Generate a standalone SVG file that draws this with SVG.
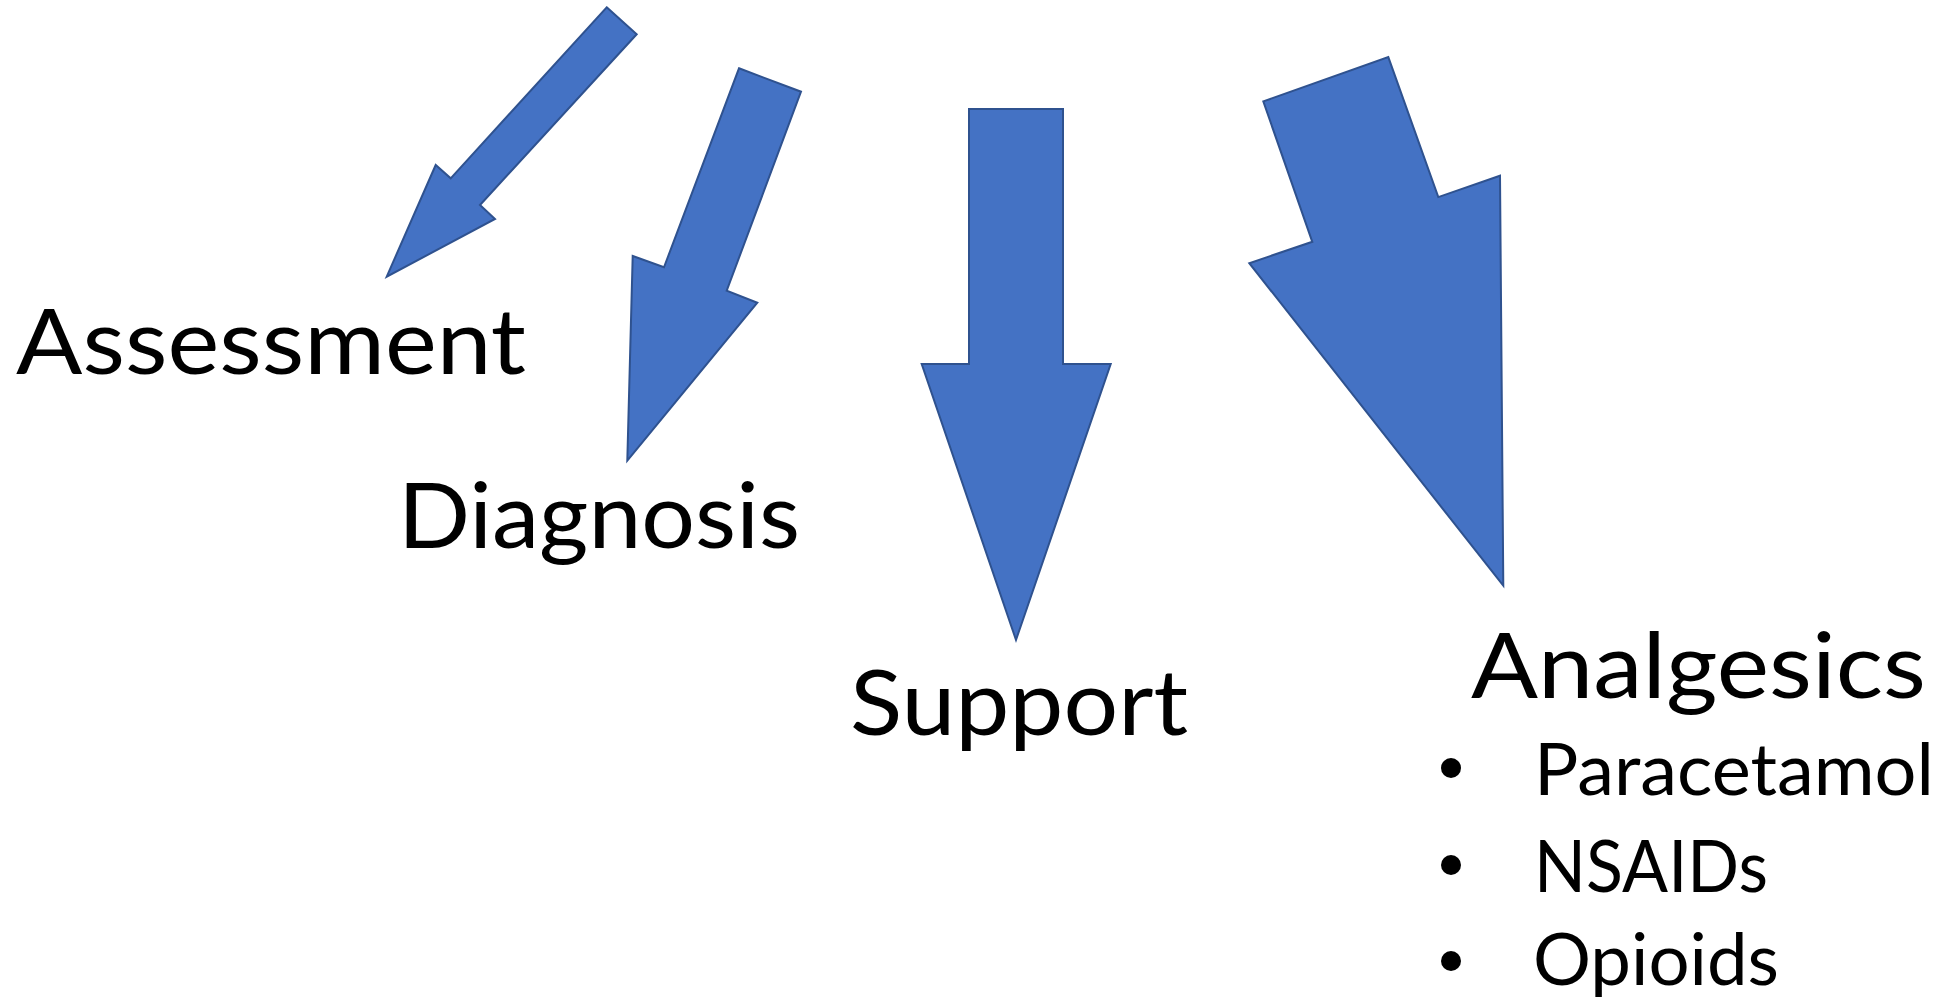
<svg xmlns="http://www.w3.org/2000/svg" width="1947" height="1001" viewBox="0 0 1947 1001">
  <style>
    .arrow { fill: #4472C4; stroke: #2F528F; stroke-width: 2; stroke-linejoin: miter; }
    .title { font-family: Lato, "Open Sans", "Liberation Sans", sans-serif; font-size: 92px; fill: #000000; }
    .item { font-family: Lato, "Open Sans", "Liberation Sans", sans-serif; font-size: 71px; fill: #000000; }
    .bullet { fill: #000000; }
  </style>
  <rect x="0" y="0" width="1947" height="1001" fill="#FFFFFF"/>
  <g id="connectors">
    <polygon id="arrow-assessment" class="arrow" points="606.7,7.3 636.7,34.3 480,205 495,219 386.7,276.7 435.7,165 450.7,178.3"/>
    <polygon id="arrow-diagnosis" class="arrow" points="739,68.3 801,91.7 726.7,290.7 757.3,302.7 627.3,460.7 632.7,256 664,267.3"/>
    <polygon id="arrow-support" class="arrow" points="969,109 1063,109 1063,364 1110.7,364 1016,640 921.7,364 969,364"/>
    <polygon id="arrow-analgesics" class="arrow" points="1263.3,101.4 1388.3,57.1 1438.3,197.1 1500,175.7 1503.3,585.7 1249.3,263.2 1312.3,241.8"/>
  </g>
  <g id="node-assessment">
    <text class="title" x="16" y="374" textLength="510" lengthAdjust="spacingAndGlyphs">Assessment</text>
  </g>
  <g id="node-diagnosis">
    <text class="title" x="398" y="548" textLength="402" lengthAdjust="spacingAndGlyphs">Diagnosis</text>
  </g>
  <g id="node-support">
    <text class="title" x="850" y="735" textLength="338" lengthAdjust="spacingAndGlyphs">Support</text>
  </g>
  <g id="node-analgesics">
    <text class="title" x="1471" y="698" textLength="455" lengthAdjust="spacingAndGlyphs">Analgesics</text>
    <circle class="bullet" cx="1451" cy="768" r="10"/>
    <text class="item" x="1534" y="795" textLength="400" lengthAdjust="spacingAndGlyphs">Paracetamol</text>
    <circle class="bullet" cx="1451" cy="865" r="10"/>
    <text class="item" x="1534" y="892" textLength="234" lengthAdjust="spacingAndGlyphs">NSAIDs</text>
    <circle class="bullet" cx="1451" cy="961" r="10"/>
    <text class="item" x="1533" y="985" textLength="246" lengthAdjust="spacingAndGlyphs">Opioids</text>
  </g>
</svg>
